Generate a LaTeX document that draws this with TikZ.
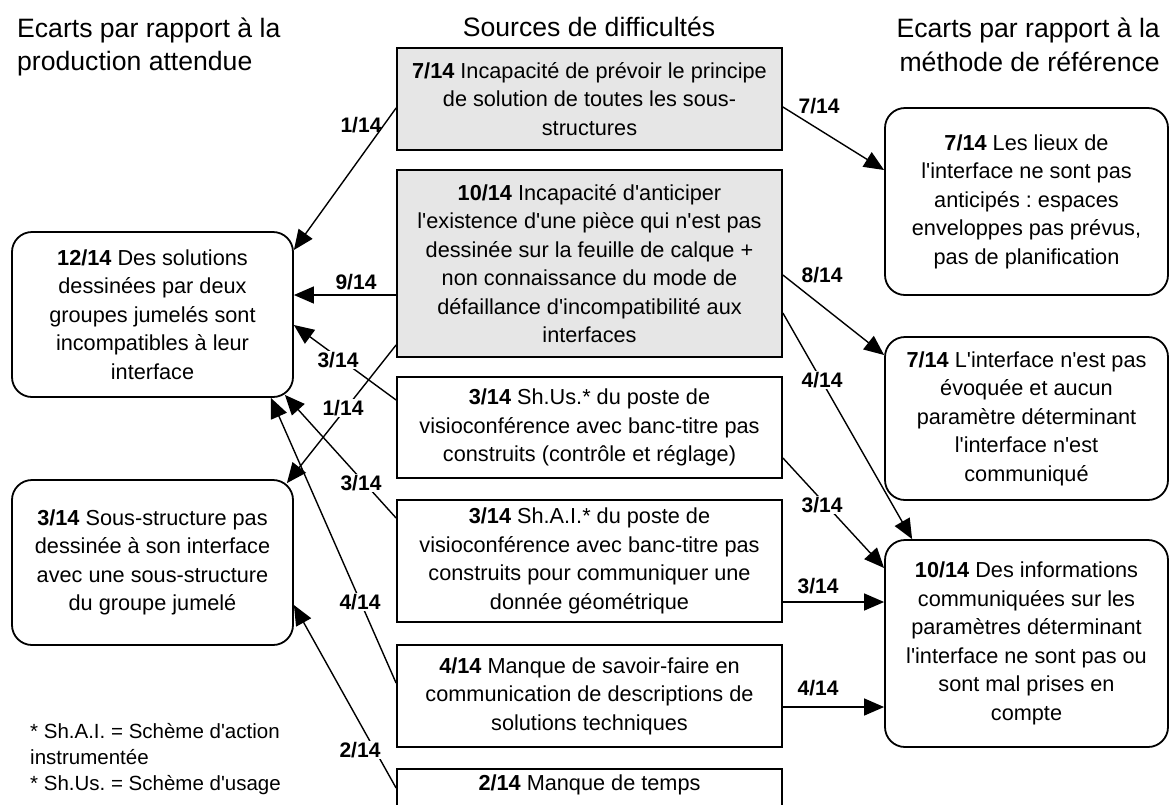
\documentclass[tikz,border=0pt]{standalone}
\usepackage{fontspec}
\setmainfont{Liberation Sans}[Ligatures=TeXOff]
\usetikzlibrary{arrows.meta}
\definecolor{boxgray}{RGB}{230,230,230}
\frenchspacing
\begin{document}
\begin{tikzpicture}[x=1pt,y=-1pt,
 body/.style={font=\fontsize{21.7}{28.5}\selectfont, align=center, inner sep=0pt, draw, line width=1.8pt},
 srcbox/.style={body, minimum width=385pt, fill=white},
 graybox/.style={srcbox, fill=boxgray},
 effbox/.style={body, rounded corners=20pt, fill=white, minimum width=281pt},
 arr/.style={line width=1.4pt, -{Triangle[length=20pt,width=17pt]}},
 lbl/.style={font=\fontsize{21}{24}\selectfont\bfseries, inner sep=1.5pt},
 onlbl/.style={lbl, fill=white},
 head/.style={font=\fontsize{26.6}{33}\selectfont, inner sep=0pt},
 note/.style={font=\fontsize{20.5}{26}\selectfont, inner sep=0pt, anchor=base west},
]
\useasboundingbox (0,0) rectangle (1172,804);
\clip (0,0) rectangle (1172,804);

% headings
\node[head, anchor=base west] (hl1) at (17,37) {Ecarts par rapport à la};
\node[head, anchor=base west] (hl2) at (17,70) {production attendue};
\node[head, anchor=base] (hc) at (589,36) {Sources de difficultés};
\node[head, anchor=base east] (hr1) at (1160,37) {Ecarts par rapport à la};
\node[head, anchor=base east] (hr2) at (1160,71) {méthode de référence};

% sources
\node[graybox, minimum height=102pt] (A) at (589.5,99) {\textbf{7/14} Incapacité de prévoir le principe\\ de solution de toutes les sous-\\ structures};
\node[graybox, minimum height=187pt] (B) at (589.5,263.5) {\textbf{10/14} Incapacité d'anticiper\\ l'existence d'une pièce qui n'est pas\\ dessinée sur la feuille de calque +\\ non connaissance du mode de\\ défaillance d'incompatibilité aux\\ interfaces};
\node[srcbox, minimum height=101pt] (C) at (589.5,427.5) {\textbf{3/14} Sh.Us.* du poste de\\ visioconférence avec banc-titre pas\\ construits (contrôle et réglage)};
\node[srcbox, minimum height=122pt] (D) at (589.5,561) {\textbf{3/14} Sh.A.I.* du poste de\\ visioconférence avec banc-titre pas\\ construits pour communiquer une\\ donnée géométrique};
\node[srcbox, minimum height=102pt] (E) at (589.5,696) {\textbf{4/14} Manque de savoir-faire en\\ communication de descriptions de\\ solutions techniques};
\node[srcbox, anchor=north, text height=22pt, text depth=28pt] (F) at (589.5,768) {\textbf{2/14} Manque de temps};

% left effects
\node[effbox, minimum height=165pt] (L1) at (152.5,314.5) {\textbf{12/14} Des solutions\\ dessinées par deux\\ groupes jumelés sont\\ incompatibles à leur\\ interface};
\node[effbox, minimum height=165pt] (L2) at (152.5,562.5) {\textbf{3/14} Sous-structure pas\\ dessinée à son interface\\ avec une sous-structure\\ du groupe jumelé};

% right effects
\node[effbox, minimum width=283pt, minimum height=187pt] (R1) at (1026.5,201.5) {\textbf{7/14} Les lieux de\\ l'interface ne sont pas\\ anticipés : espaces\\ enveloppes pas prévus,\\ pas de planification};
\node[effbox, minimum width=283pt, minimum height=163pt] (R2) at (1026.5,418.5) {\textbf{7/14} L'interface n'est pas\\ évoquée et aucun\\ paramètre déterminant\\ l'interface n'est\\ communiqué};
\node[effbox, minimum width=283pt, minimum height=207pt] (R3) at (1026.5,643.5) {\textbf{10/14} Des informations\\ communiquées sur les\\ paramètres déterminant\\ l'interface ne sont pas ou\\ sont mal prises en\\ compte};

% footnote
\node[note] (n1) at (30,738) {* Sh.A.I. = Schème d'action};
\node[note] (n2) at (30,764) {instrumentée};
\node[note] (n3) at (30,790) {* Sh.Us. = Schème d'usage};

% connectors
\draw[arr] (A.west |- 0,108) -- (L1.east |- 0,250);
\draw[arr] (A.east |- 0,107) -- (R1.west |- 0,170);
\draw[arr] (B.west |- 0,295) -- (L1.east |- 0,295);
\draw[arr] (B.west |- 0,345) -- ([xshift=-7pt,yshift=-4pt]L2.north east);
\draw[arr] (B.east |- 0,275) -- (R2.west |- 0,355);
\draw[arr] (B.east |- 0,313) -- ([xshift=28pt]R3.north west);
\draw[arr] (C.east |- 0,458) -- (R3.west |- 0,568);
\draw[arr] (D.east |- 0,602) -- (R3.west |- 0,602);
\draw[arr] (E.east |- 0,707) -- (R3.west |- 0,707);
\draw[arr] (C.west |- 0,400) -- (L1.east |- 0,325);
\draw[arr] (D.west |- 0,518) -- ([xshift=-9pt,yshift=3pt]L1.south east);
\draw[arr] (E.west |- 0,683) -- ([xshift=-23pt]L1.south east);
\draw[arr] (F.west |- 0,788) -- (L2.east |- 0,605);

% labels
\node[lbl] (la1) at (361,125) {1/14};
\node[lbl] (la2) at (819,106) {7/14};
\node[lbl] (lb1) at (356,282) {9/14};
\node[lbl] (lb2) at (822,275) {8/14};
\node[lbl] (ld2) at (818,586) {3/14};
\node[lbl] (le2) at (818,688) {4/14};
\node[onlbl] (lb3) at (343,408) {1/14};
\node[onlbl] (lc1) at (338,360) {3/14};
\node[onlbl] (ld1) at (361,483) {3/14};
\node[onlbl] (le1) at (360,602) {4/14};
\node[onlbl] (lf1) at (360,750) {2/14};
\node[onlbl] (lb4) at (822,380) {4/14};
\node[onlbl] (lc2) at (822,505) {3/14};
\end{tikzpicture}
\end{document}
